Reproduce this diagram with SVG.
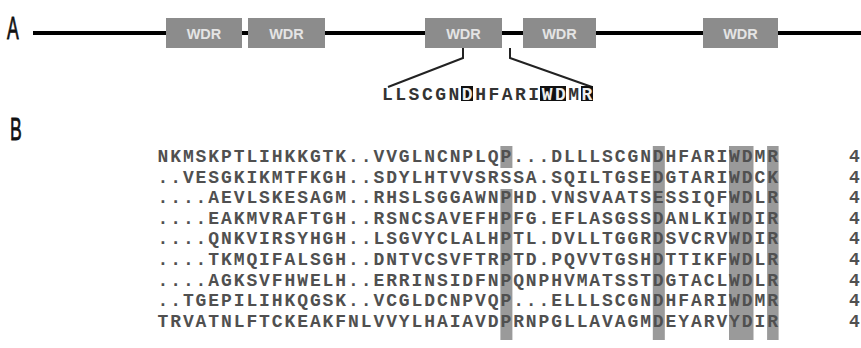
<svg xmlns="http://www.w3.org/2000/svg" width="861" height="348" viewBox="0 0 861 348">
  <style>
    .panel { font-family: "Liberation Sans", Arial, sans-serif; fill: #111; font-size: 32px; stroke: #111; stroke-width: 0.8; }
    .domain { fill: #8c8c8c; }
    .domain-label { font-family: "Liberation Sans", Arial, sans-serif; font-size: 14.5px; font-weight: bold; fill: #e4e4e4; text-anchor: middle; }
    .seq { font-family: "Liberation Mono", "Courier New", monospace; font-size: 18px; font-weight: bold; letter-spacing: 1.9px; fill: #505050; }
    .motif { font-family: "Liberation Mono", "Courier New", monospace; font-size: 18px; font-weight: bold; letter-spacing: 2.5px; fill: #333; }
    .motif-hl { fill: #111; }
    .motif-hl-text { fill: #eee; }
    .band { fill: #9a9a9a; }
    .link { fill: none; stroke: #222; stroke-width: 2; }
    .backbone { stroke: #000; stroke-width: 4; }
  </style>

  <rect width="861" height="348" fill="#fff"/>

  <!-- Panel A: protein backbone with WD40 repeats -->
  <text class="panel" transform="translate(7,39) scale(0.55,1)">A</text>
  <line class="backbone" x1="33" y1="33" x2="861" y2="33"/>

  <g id="wdr1"><rect class="domain" x="166" y="18" width="76" height="30"/><text class="domain-label" x="204" y="38.5">WDR</text></g>
  <g id="wdr2"><rect class="domain" x="248" y="18" width="77" height="30"/><text class="domain-label" x="286.5" y="38.5">WDR</text></g>
  <g id="wdr3"><rect class="domain" x="425" y="18" width="77" height="30"/><text class="domain-label" x="463.5" y="38.5">WDR</text></g>
  <g id="wdr4"><rect class="domain" x="523" y="18" width="73" height="30"/><text class="domain-label" x="559.5" y="38.5">WDR</text></g>
  <g id="wdr5"><rect class="domain" x="703" y="18" width="75" height="30"/><text class="domain-label" x="740.5" y="38.5">WDR</text></g>

  <!-- callout lines to the repeat motif -->
  <g id="connectors">
    <polyline class="link" points="463,48 463,58 388,87"/>
    <polyline class="link" points="510,48 510,58 592,87"/>
  </g>

  <!-- motif sequence with conserved residues boxed -->
  <g id="motif">
    <rect class="motif-hl" x="461" y="86" width="12" height="15"/>
    <rect class="motif-hl" x="540" y="86" width="26" height="15"/>
    <rect class="motif-hl" x="581" y="86" width="12" height="15"/>
    <text class="motif" x="382" y="100">LLSCGN<tspan class="motif-hl-text">D</tspan>HFARI<tspan class="motif-hl-text">WD</tspan>M<tspan class="motif-hl-text">R</tspan></text>
  </g>

  <!-- Panel B: multiple sequence alignment -->
  <text class="panel" transform="translate(10,140) scale(0.55,1)">B</text>

  <g id="conserved-columns">
    <rect class="band" x="500.4" y="146" width="12" height="22"/>
    <rect class="band" x="500.4" y="189" width="12" height="151"/>
    <rect class="band" x="652.8" y="146" width="12" height="194"/>
    <rect class="band" x="729" y="146" width="24.5" height="194"/>
    <rect class="band" x="767.1" y="146" width="11.5" height="194"/>
  </g>

  <g id="alignment">
    <text class="seq" x="157.5" y="162">NKMSKPTLIHKKGTK..VVGLNCNPLQP...DLLLSCGNDHFARIWDMR</text>
    <text class="seq" x="157.5" y="182.6">..VESGKIKMTFKGH..SDYLHTVVSRSSA.SQILTGSEDGTARIWDCK</text>
    <text class="seq" x="157.5" y="203.2">....AEVLSKESAGM..RHSLSGGAWNPHD.VNSVAATSESSIQFWDLR</text>
    <text class="seq" x="157.5" y="223.8">....EAKMVRAFTGH..RSNCSAVEFHPFG.EFLASGSSDANLKIWDIR</text>
    <text class="seq" x="157.5" y="244.4">....QNKVIRSYHGH..LSGVYCLALHPTL.DVLLTGGRDSVCRVWDIR</text>
    <text class="seq" x="157.5" y="265">....TKMQIFALSGH..DNTVCSVFTRPTD.PQVVTGSHDTTIKFWDLR</text>
    <text class="seq" x="157.5" y="285.6">....AGKSVFHWELH..ERRINSIDFNPQNPHVMATSSTDGTACLWDLR</text>
    <text class="seq" x="157.5" y="306.2">..TGEPILIHKQGSK..VCGLDCNPVQP...ELLLSCGNDHFARIWDMR</text>
    <text class="seq" x="157.5" y="326.8">TRVATNLFTCKEAKFNLVVYLHAIAVDPRNPGLLAVAGMDEYARVYDIR</text>
  </g>

  <!-- residue numbers at the right margin -->
  <g id="positions">
    <text class="seq" x="849" y="162">4</text>
    <text class="seq" x="849" y="182.6">4</text>
    <text class="seq" x="849" y="203.2">4</text>
    <text class="seq" x="849" y="223.8">4</text>
    <text class="seq" x="849" y="244.4">4</text>
    <text class="seq" x="849" y="265">4</text>
    <text class="seq" x="849" y="285.6">4</text>
    <text class="seq" x="849" y="306.2">4</text>
    <text class="seq" x="849" y="326.8">4</text>
  </g>
</svg>
